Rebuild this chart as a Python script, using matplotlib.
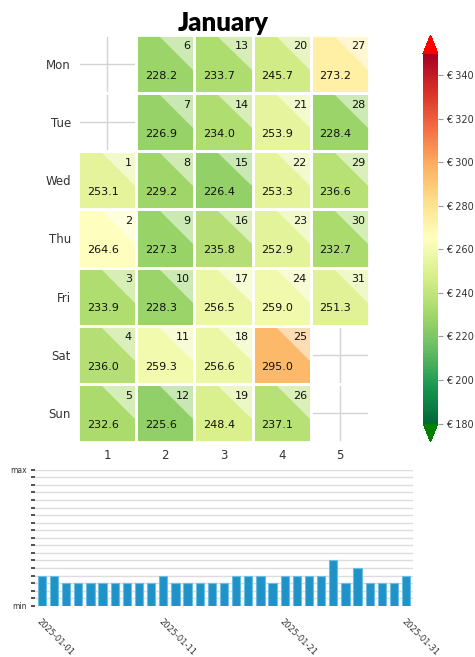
import numpy as np
import matplotlib.pyplot as plt
from matplotlib.patches import Rectangle, Polygon
from matplotlib import colors

# daily prices for January 2025 (day 1..31)
days = list(range(1, 32))
prices = [253.1, 264.6, 233.9, 236.0, 232.6, 228.2, 226.9, 229.2, 227.3, 228.3,
          259.3, 225.6, 233.7, 234.0, 226.4, 235.8, 256.5, 256.6, 248.4, 245.7,
          253.9, 253.3, 252.9, 259.0, 295.0, 237.1, 273.2, 228.4, 236.6, 232.7,
          251.3]
# bar strip under the calendar (scale min..max)
bar_values = [4, 4, 3, 3, 3, 3, 3, 3, 3, 3,
              4, 3, 3, 3, 3, 3, 4, 4, 4, 3,
              4, 4, 4, 4, 6, 3, 5, 3, 3, 3, 4]
weekdays = ['Mon', 'Tue', 'Wed', 'Thu', 'Fri', 'Sat', 'Sun']
weeks = [1, 2, 3, 4, 5]
first_weekday = 2  # Jan 1 2025 is a Wednesday
date_labels = ['2025-01-01', '2025-01-11', '2025-01-21', '2025-01-31']
vmin, vmax = 180, 350

cmap = plt.get_cmap('RdYlGn_r').copy()
cmap.set_over('red')
cmap.set_under('green')
norm = colors.Normalize(vmin=vmin, vmax=vmax)

fig = plt.figure(figsize=(4.75, 6.57), dpi=100)

# calendar heatmap
ax = fig.add_axes([0.164, 0.327, 0.613, 0.620])
ax.set_xlim(0.5, 5.5)
ax.set_ylim(7.5, 0.5)
ax.set_xticks(weeks)
ax.set_yticks(range(1, 8))
ax.set_yticklabels(weekdays)
ax.tick_params(length=0, labelsize=8.5, labelcolor='#333333', pad=5)
ax.grid(True, color='#d4d4d4', lw=1)
ax.set_axisbelow(True)
for s in ax.spines.values():
    s.set_visible(False)

for d, p in zip(days, prices):
    idx = d - 1 + first_weekday
    row = idx % 7 + 1
    col = idx // 7 + 1
    c = cmap(norm(p))
    x0, y0 = col - 0.5, row - 0.5
    ax.add_patch(Rectangle((x0, y0), 1, 1, facecolor=c, edgecolor='none', zorder=2))
    leg = 0.62
    ax.add_patch(Polygon([(x0 + 1 - leg, y0), (x0 + 1, y0), (x0 + 1, y0 + leg)],
                         closed=True, facecolor='white', alpha=0.5,
                         edgecolor='none', zorder=3))
    ax.text(x0 + 0.93, y0 + 0.2, str(d), ha='right', va='center', fontsize=8,
            color='#111111', zorder=4)
    ax.text(x0 + 0.15, y0 + 0.7, f'{p:.1f}', ha='left', va='center', fontsize=8,
            color='#111111', zorder=4)

# white borders for all cells (also the empty ones)
for r in range(1, 8):
    for c in weeks:
        ax.add_patch(Rectangle((c - 0.5, r - 0.5), 1, 1, facecolor='none',
                               edgecolor='white', lw=2, zorder=5))

ax.set_title('January', fontsize=18.5, fontweight='heavy', family='Lato', pad=3)

# colorbar
cax = fig.add_axes([0.8905, 0.3272, 0.0316, 0.6195])
sm = plt.cm.ScalarMappable(norm=norm, cmap=cmap)
cb = fig.colorbar(sm, cax=cax, extend='both')
cb.outline.set_visible(False)
cb.set_ticks(range(180, 341, 20))
cb.set_ticklabels([f'€ {v}' for v in range(180, 341, 20)])
cax.tick_params(labelsize=7, labelcolor='#333333', color='#999999',
                length=3.5, pad=2.5)

# bar strip
bx = fig.add_axes([0.074, 0.078, 0.795, 0.207])
x = np.arange(len(bar_values))
bx.bar(x, bar_values, width=0.68, color='#1f93c8', edgecolor='#6cbde2', lw=0.8, zorder=2)
bx.set_xlim(-0.55, len(bar_values) - 0.45)
bx.set_ylim(0, 18)
bx.set_yticks(range(19))
bx.set_yticklabels(['min'] + [''] * 17 + ['max'])
bx.set_xticks([0, 10, 20, 30])
bx.set_xticklabels(date_labels, rotation=-45, ha='left', va='top',
                   rotation_mode='anchor')
bx.tick_params(axis='y', length=3, width=1.2, color='#333333', labelsize=5.5,
               labelcolor='#333333', pad=3)
bx.tick_params(axis='x', length=0, labelsize=6, labelcolor='#333333', pad=8)
bx.grid(True, axis='y', color='#dddddd', lw=1)
bx.set_axisbelow(True)
for s in bx.spines.values():
    s.set_visible(False)

fig.savefig('out.png', dpi=100)
